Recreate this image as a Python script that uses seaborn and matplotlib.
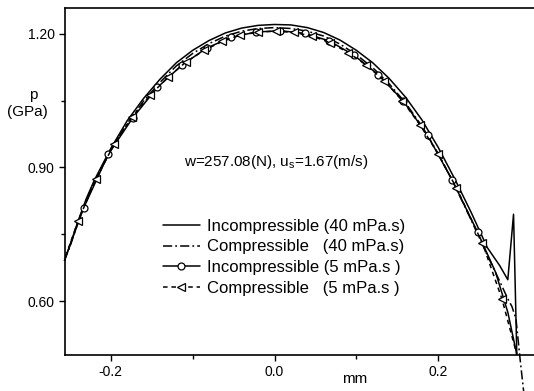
import matplotlib
matplotlib.use("Agg")
import matplotlib.pyplot as plt
import seaborn as sns
import pandas as pd
from matplotlib.ticker import FixedLocator

# ---- data ----
x_inc40 = [-0.262, -0.25, -0.24, -0.23, -0.22, -0.20, -0.18, -0.16, -0.14, -0.12, -0.10,
           -0.08, -0.06, -0.04, -0.02, 0.00, 0.02, 0.04, 0.06, 0.08, 0.10, 0.12, 0.14,
           0.16, 0.18, 0.20, 0.22, 0.24, 0.26, 0.275, 0.285, 0.292, 0.296]
p_inc40 = [0.665, 0.725, 0.78, 0.83, 0.872, 0.943, 1.005, 1.055, 1.098, 1.135, 1.163,
           1.185, 1.202, 1.213, 1.219, 1.221, 1.22, 1.214, 1.203, 1.186, 1.163, 1.135, 1.100,
           1.058, 1.007, 0.945, 0.875, 0.80, 0.72, 0.68, 0.648, 0.795, 0.48]

x_com40 = [-0.257, -0.25, -0.24, -0.23, -0.22, -0.20, -0.18, -0.16, -0.14, -0.12, -0.10,
           -0.08, -0.06, -0.04, -0.02, 0.00, 0.02, 0.04, 0.06, 0.08, 0.10, 0.12, 0.14,
           0.16, 0.18, 0.20, 0.22, 0.24, 0.26, 0.275, 0.285, 0.29, 0.295, 0.300, 0.306]
p_com40 = [0.69, 0.722, 0.777, 0.826, 0.868, 0.938, 0.999, 1.049, 1.091, 1.128, 1.156,
           1.178, 1.195, 1.206, 1.212, 1.214, 1.212, 1.206, 1.195, 1.177, 1.153, 1.124, 1.088,
           1.045, 0.993, 0.931, 0.86, 0.783, 0.703, 0.645, 0.605, 0.588, 0.56, 0.47, 0.37]

x_inc5 = [-0.262, -0.233, -0.203, -0.173, -0.143, -0.113, -0.083, -0.053, -0.023, 0.007,
          0.037, 0.067, 0.097, 0.127, 0.157, 0.187, 0.217, 0.248, 0.27, 0.285, 0.296]
p_inc5 = [0.665, 0.81, 0.93, 1.012, 1.08, 1.13, 1.168, 1.192, 1.204, 1.207,
          1.201, 1.184, 1.152, 1.108, 1.05, 0.972, 0.872, 0.755, 0.665, 0.575, 0.48]

x_com5 = [-0.262, -0.240, -0.218, -0.196, -0.174, -0.152, -0.130, -0.108, -0.086, -0.064,
          -0.042, -0.020, 0.002, 0.024, 0.046, 0.068, 0.090, 0.112, 0.134, 0.156, 0.178,
          0.200, 0.222, 0.254, 0.278, 0.296]
p_com5 = [0.665, 0.78, 0.875, 0.952, 1.013, 1.062, 1.103, 1.137, 1.163, 1.183,
          1.197, 1.204, 1.206, 1.203, 1.195, 1.18, 1.158, 1.13, 1.095, 1.05, 0.995,
          0.93, 0.855, 0.73, 0.604, 0.48]

labels = ["Incompressible (40 mPa.s)", "Compressible   (40 mPa.s)",
          "Incompressible (5 mPa.s )", "Compressible   (5 mPa.s )"]
yticks = [0.60, 0.90, 1.20]
ytick_labels = ["0.60", "0.90", "1.20"]
xticks = [-0.2, 0.0, 0.2]
xtick_labels = ["-0.2", "0.0", "0.2"]

# ---- style ----
sns.set_theme(style="ticks")
plt.rcParams["font.family"] = ["Liberation Sans", "DejaVu Sans"]
plt.rcParams["mathtext.default"] = "regular"
for key in ["text.color", "axes.labelcolor", "xtick.color", "ytick.color", "axes.edgecolor"]:
    plt.rcParams[key] = "black"

fig = plt.figure(figsize=(5.34, 3.91), dpi=100)
ax = fig.add_axes([65 / 534, 1 - 355 / 391, 1 - 65 / 534, (355 - 8) / 391])

common = dict(ax=ax, color="black", lw=1.1, sort=False, estimator=None)
sns.lineplot(x=x_inc40, y=p_inc40, label=labels[0], linestyle="-", **common)
l2 = sns.lineplot(x=x_com40, y=p_com40, label=labels[1], **common).lines[-1]
l2.set_dashes([6, 2, 1.2, 2])
l2.set_clip_on(False)
sns.lineplot(x=x_inc5, y=p_inc5, label=labels[2], linestyle="-", marker="o",
             markersize=5, mfc="white", mec="black", mew=0.9,
             markevery=list(range(len(x_inc5) - 3)), **common)
l4 = sns.lineplot(x=x_com5, y=p_com5, label=labels[3], marker="<",
                  markersize=6, mfc="white", mec="black", mew=0.9,
                  markevery=list(range(len(x_com5) - 1)), **common).lines[-1]
l4.set_dashes([3, 2.5])

ax.set_xlim(-0.256, 0.317)
ax.set_ylim(0.479, 1.258)
ax.set_xticks(xticks)
ax.set_xticklabels(xtick_labels)
ax.set_yticks(yticks)
ax.set_yticklabels(ytick_labels)
ax.yaxis.set_minor_locator(FixedLocator([0.75, 1.05]))
ax.xaxis.set_minor_locator(FixedLocator([-0.1, 0.1]))
ax.tick_params(axis="both", which="major", direction="out", length=4.5, width=1,
               labelsize=10, pad=3, color="black", labelcolor="black")
ax.tick_params(axis="both", which="minor", direction="out", length=3, width=1, color="black")
ax.set_xlabel("")
ax.set_ylabel("")
for side in ["left", "bottom", "top"]:
    ax.spines[side].set_visible(True)
    ax.spines[side].set_linewidth(1.2)
    ax.spines[side].set_color("black")
ax.spines["right"].set_visible(False)

# labels
fig.text(33 / 534, 1 - 95 / 391, "p", ha="center", va="center", fontsize=11, color="black")
fig.text(27.5 / 534, 1 - 112 / 391, "(GPa)", ha="center", va="center", fontsize=11, color="black")
fig.text(355 / 534, 1 - 379 / 391, "mm", ha="center", va="center", fontsize=11, color="black")
fig.text(276 / 534, 1 - 162 / 391, "w=257.08(N), u$_s$=1.67(m/s)",
         ha="center", va="center", fontsize=11, color="black")

leg = ax.legend(loc="upper left", bbox_to_anchor=(163 / 534, 1 - 219 / 391),
                bbox_transform=fig.transFigure, frameon=False, fontsize=12,
                borderpad=0, borderaxespad=0, handlelength=2.2, handletextpad=0.45,
                labelspacing=0.33, numpoints=1)
for t in leg.get_texts():
    t.set_color("black")

fig.savefig("out.png", dpi=100)
